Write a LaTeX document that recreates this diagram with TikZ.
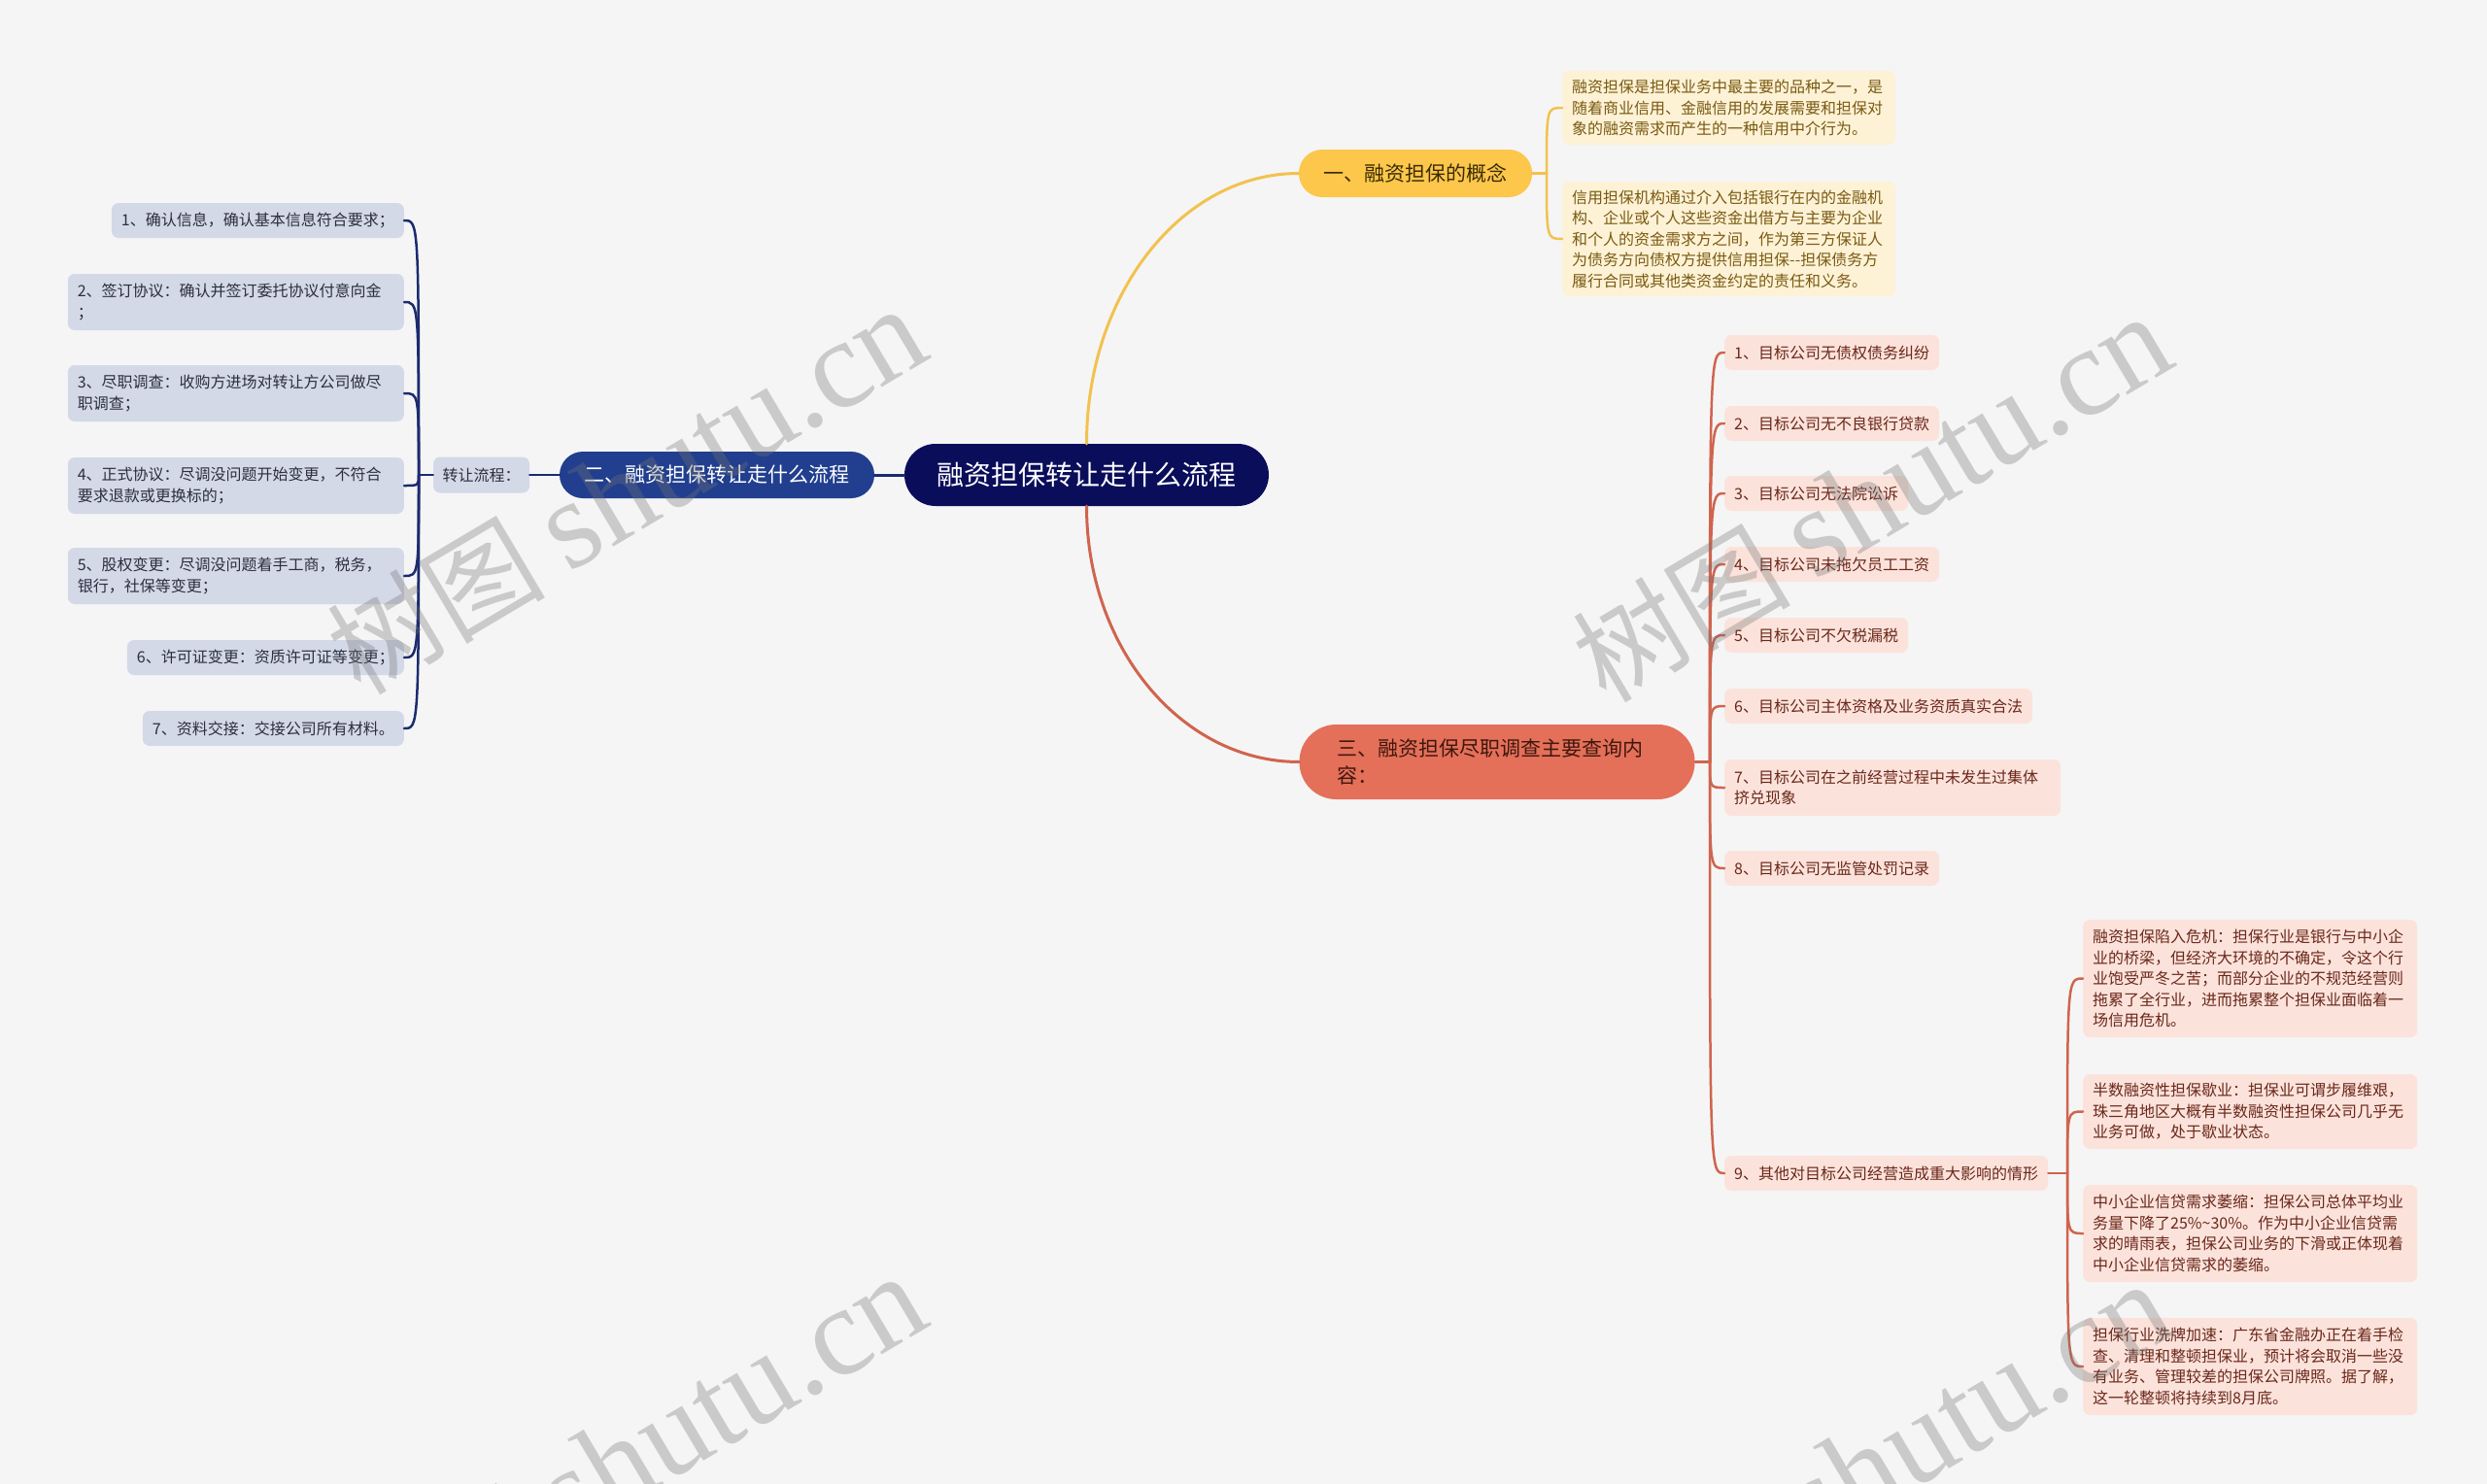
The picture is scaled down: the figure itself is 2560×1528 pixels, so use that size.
\documentclass[tikz,border=0pt]{standalone}
\usepackage{fontspec}
\setmainfont{Noto Sans CJK SC}
\newfontfamily\latinwm{Liberation Serif}
\usepackage{tikz}
\usetikzlibrary{positioning}

\definecolor{bgcol}{HTML}{F5F5F5}
\definecolor{rootcol}{HTML}{0A0E5A}
\definecolor{navyline}{HTML}{1B2B6E}
\definecolor{bluecol}{HTML}{213F8E}
\definecolor{lfill}{HTML}{D4D9E8}
\definecolor{ltext}{HTML}{2B2F3F}
\definecolor{ycol}{HTML}{FCC74B}
\definecolor{ytext}{HTML}{3A2B05}
\definecolor{yline}{HTML}{F2C24F}
\definecolor{yfill}{HTML}{FDF2D6}
\definecolor{yitemtext}{HTML}{7A5A12}
\definecolor{rcol}{HTML}{E4705A}
\definecolor{rtext}{HTML}{3F170D}
\definecolor{rline}{HTML}{D0644E}
\definecolor{rfill}{HTML}{FBE3DC}
\definecolor{ritemtext}{HTML}{6B2719}

\newcommand{\smallfont}{\fontsize{16}{21.5}\selectfont}
\newcommand{\midfont}{\fontsize{21}{28}\selectfont}
\newcommand{\bigfont}{\fontsize{28}{34}\selectfont}

\begin{document}
\begin{tikzpicture}[x=1pt,y=-1pt,line cap=round]
  \tikzstyle{topic}=[inner sep=0pt,align=left]
  \tikzstyle{leaf}=[inner xsep=10pt,inner ysep=0pt,minimum height=36pt,rounded corners=7pt,align=left,font=\smallfont]
  \tikzstyle{lleaf}=[leaf,fill=lfill,text=ltext,anchor=east]
  \tikzstyle{yleaf}=[leaf,fill=yfill,text=yitemtext,anchor=west,text width=323pt]
  \tikzstyle{rleaf}=[leaf,fill=rfill,text=ritemtext,anchor=west]
  \tikzstyle{wm}=[text=black!55,text opacity=0.33,rotate=30.7,font=\fontsize{112}{112}\selectfont]

  \useasboundingbox (0,0) rectangle (2560,1528);
  \clip (0,0) rectangle (2560,1528);
  \fill[bgcol] (0,0) rectangle (2560,1528);

  % main topics
  \node[topic,fill=rootcol,text=white,font=\bigfont,minimum width=375pt,minimum height=64pt,rounded corners=32pt] (root) at (1118.5,489) {融资担保转让走什么流程};
  \node[topic,fill=ycol,text=ytext,font=\midfont,minimum width=240pt,minimum height=49pt,rounded corners=24pt] (one) at (1457,178.5) {一、融资担保的概念};
  \node[topic,fill=bluecol,text=white,font=\midfont,minimum width=324pt,minimum height=48pt,rounded corners=24pt] (two) at (738,489) {二、融资担保转让走什么流程};
  \node[topic,fill=rcol,text=rtext,font=\midfont,minimum width=407pt,minimum height=77pt,rounded corners=38pt,text width=330pt] (three) at (1541,784.5) {三、融资担保尽职调查主要查询内\\容：};

  \draw[yline,line width=3pt] (root.north) .. controls +(0,-154) and +(-121,0) .. (one.west);
  \draw[rline,line width=3pt] (root.south) .. controls +(0,146) and +(-121,0) .. (three.west);
  \draw[navyline,line width=3pt] (root.west) -- (two.east);

  % left side
  \node[topic,fill=lfill,text=ltext,font=\smallfont,minimum width=99pt,minimum height=37pt,rounded corners=7pt,align=center] (flow) at (495.5,489) {转让流程：};
  \draw[navyline,line width=2.5pt] (two.west) -- (flow.east);

  \node[lleaf] (l1) at (416,227) {1、确认信息，确认基本信息符合要求；};
  \node[lleaf,text width=326pt,minimum height=58pt] (l2) at (416,311) {2、签订协议：确认并签订委托协议付意向金\\；};
  \node[lleaf,text width=326pt,minimum height=58pt] (l3) at (416,405) {3、尽职调查：收购方进场对转让方公司做尽\\职调查；};
  \node[lleaf,text width=326pt,minimum height=58pt] (l4) at (416,500) {4、正式协议：尽调没问题开始变更，不符合\\要求退款或更换标的；};
  \node[lleaf,text width=326pt,minimum height=58pt] (l5) at (416,593) {5、股权变更：尽调没问题着手工商，税务，\\银行，社保等变更；};
  \node[lleaf] (l6) at (416,677) {6、许可证变更：资质许可证等变更；};
  \node[lleaf] (l7) at (416,750) {7、资料交接：交接公司所有材料。};

  \coordinate (k2) at (431,489);
  \draw[navyline,line width=2.5pt] (flow.west) -- (k2);
  \foreach \i in {1,...,7}
    \draw[navyline,line width=2.5pt] (k2) .. controls (k2 |- l\i.east) .. (l\i.east);

  % concept
  \node[yleaf,minimum height=76pt] (c1) at (1608,111) {融资担保是担保业务中最主要的品种之一，是\\随着商业信用、金融信用的发展需要和担保对\\象的融资需求而产生的一种信用中介行为。};
  \node[yleaf,minimum height=118pt] (c2) at (1608,246) {信用担保机构通过介入包括银行在内的金融机\\构、企业或个人这些资金出借方与主要为企业\\和个人的资金需求方之间，作为第三方保证人\\为债务方向债权方提供信用担保-{}-担保债务方\\履行合同或其他类资金约定的责任和义务。};

  \coordinate (k1) at (1592,178.5);
  \draw[yline,line width=2.5pt] (one.east) -- (k1);
  \foreach \i in {1,2}
    \draw[yline,line width=2.5pt] (k1) .. controls (k1 |- c\i.west) .. (c\i.west);

  % due diligence
  \node[rleaf] (r1) at (1775,363) {1、目标公司无债权债务纠纷};
  \node[rleaf] (r2) at (1775,436) {2、目标公司无不良银行贷款};
  \node[rleaf] (r3) at (1775,508) {3、目标公司无法院讼诉};
  \node[rleaf] (r4) at (1775,581) {4、目标公司未拖欠员工工资};
  \node[rleaf] (r5) at (1775,654) {5、目标公司不欠税漏税};
  \node[rleaf] (r6) at (1775,727) {6、目标公司主体资格及业务资质真实合法};
  \node[rleaf,text width=326pt,minimum height=58pt] (r7) at (1775,811) {7、目标公司在之前经营过程中未发生过集体\\挤兑现象};
  \node[rleaf] (r8) at (1775,894) {8、目标公司无监管处罚记录};
  \node[rleaf] (r9) at (1775,1208) {9、其他对目标公司经营造成重大影响的情形};

  \coordinate (k3) at (1760,784.5);
  \draw[rline,line width=2.5pt] (three.east) -- (k3);
  \foreach \i in {1,...,9}
    \draw[rline,line width=2.5pt] (k3) .. controls (k3 |- r\i.west) .. (r\i.west);

  \node[rleaf,text width=324pt,minimum height=121pt] (s1) at (2144,1007.5) {融资担保陷入危机：担保行业是银行与中小企\\业的桥梁，但经济大环境的不确定，令这个行\\业饱受严冬之苦；而部分企业的不规范经营则\\拖累了全行业，进而拖累整个担保业面临着一\\场信用危机。};
  \node[rleaf,text width=324pt,minimum height=77pt] (s2) at (2144,1144.5) {半数融资性担保歇业：担保业可谓步履维艰，\\珠三角地区大概有半数融资性担保公司几乎无\\业务可做，处于歇业状态。};
  \node[rleaf,text width=324pt,minimum height=100pt] (s3) at (2144,1270) {中小企业信贷需求萎缩：担保公司总体平均业\\务量下降了25\%\textasciitilde30\%。作为中小企业信贷需\\求的晴雨表，担保公司业务的下滑或正体现着\\中小企业信贷需求的萎缩。};
  \node[rleaf,text width=324pt,minimum height=100pt] (s4) at (2144,1407) {担保行业洗牌加速：广东省金融办正在着手检\\查、清理和整顿担保业，预计将会取消一些没\\有业务、管理较差的担保公司牌照。据了解，\\这一轮整顿将持续到8月底。};

  \coordinate (k9) at (2128,1208);
  \draw[rline,line width=2.5pt] (r9.east) -- (k9);
  \foreach \i in {1,...,4}
    \draw[rline,line width=2.5pt] (k9) .. controls (k9 |- s\i.west) .. (s\i.west);

  % watermark
  \node[wm] (wm1) at (645,506) {树图 {\latinwm\fontsize{130}{130}\selectfont shutu.cn}};
  \node[wm] (wm2) at (1927,514) {树图 {\latinwm\fontsize{130}{130}\selectfont shutu.cn}};
  \node[wm] (wm3) at (645,1502) {树图 {\latinwm\fontsize{130}{130}\selectfont shutu.cn}};
  \node[wm] (wm4) at (1927,1510) {树图 {\latinwm\fontsize{130}{130}\selectfont shutu.cn}};

\end{tikzpicture}
\end{document}
